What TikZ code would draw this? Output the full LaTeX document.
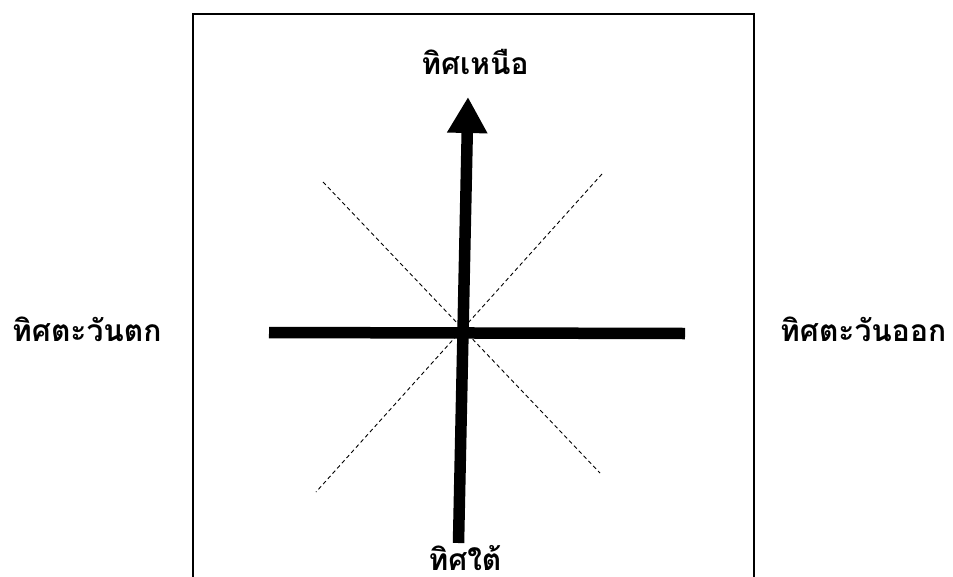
\documentclass[tikz,border=0pt]{standalone}
\usepackage{fontspec}
\newfontfamily\thaifont[Script=Thai]{Loma}
\usetikzlibrary{arrows.meta}
\tikzset{
  frame/.style={line width=2.2pt, draw=black},
  axis/.style={line width=11.5pt, draw=black, line cap=butt},
  diag/.style={line width=0.9pt, draw=black, dash pattern=on 4pt off 3pt},
  label/.style={font=\thaifont\bfseries\fontsize{30}{33}\selectfont, inner sep=0pt, text=black}
}
\begin{document}
\begin{tikzpicture}[x=1pt,y=-1pt]
\useasboundingbox (0,0) rectangle (953,576);
\clip (0,0) rectangle (953,576);
% frame
\coordinate (fbl) at (193,600);
\coordinate (ftl) at (193,14);
\coordinate (ftr) at (754,14);
\coordinate (fbr) at (754,600);
\draw[frame] (fbl) -- (ftl) -- (ftr) -- (fbr);
% diagonal dashed lines
\coordinate (ul) at (323,182);
\coordinate (lr) at (600,473);
\coordinate (ur) at (602,174);
\coordinate (ll) at (316,492);
\draw[diag] (ul) -- (lr);
\draw[diag] (ur) -- (ll);
% axes
\coordinate (w) at (269,332.5);
\coordinate (e) at (685,333.5);
\coordinate (s) at (458.5,543);
\coordinate (n) at (468,97);
\draw[axis] (w) -- (e);
\draw[axis, -{Triangle[width=38pt,length=36pt]}] (s) -- (n);
% labels
\node[label, anchor=base] (tn) at (475,74) {ทิศเหนือ};
\node[label, anchor=base west] (tw) at (12,341) {ทิศตะวันตก};
\node[label, anchor=base west] (te) at (780,341) {ทิศตะวันออก};
\node[label, anchor=base] (ts) at (465,570) {ทิศใต้};
\end{tikzpicture}
\end{document}
